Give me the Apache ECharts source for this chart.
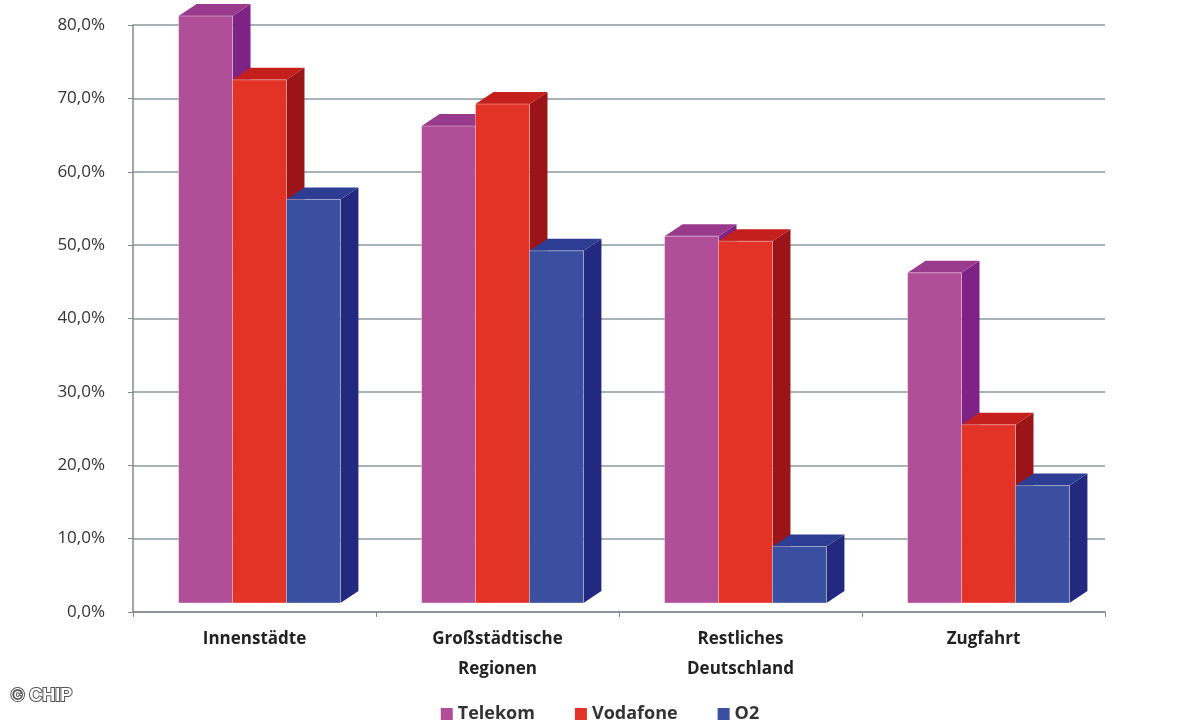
<!DOCTYPE html>
<html><head><meta charset="utf-8">
<script src="https://cdn.jsdelivr.net/npm/echarts@6/dist/echarts.min.js"></script>
<style>html,body{margin:0;background:#fff}#c{width:1200px;height:720px}</style>
</head><body><div id="c"></div>
<script>
// Mobilfunk-Netzabdeckung nach Region
const categories = ['Innenstädte', 'Großstädtische\nRegionen', 'Restliches\nDeutschland', 'Zugfahrt']
const telekom = [80.0, 65.0, 50.0, 45.0]
const vodafone = [71.3, 68.0, 49.3, 24.3]
const o2 = [55.0, 48.0, 7.7, 16.0]
const yTicks = [0, 10, 20, 30, 40, 50, 60, 70, 80]

// Front-, Dach- und Seitenfarbe je Anbieter
const palette = [
    ['#b04f98', '#9a3a8c', '#7e2385'],
    ['#e33327', '#c41f1c', '#9a1418'],
    ['#3a4f9f', '#2e3d94', '#22297f']
]
const DEPTH_X = 18, DEPTH_Y = 12

function bar3d(seriesIdx) {
    return function (params, api) {
        let cat = api.value(0)
        let top = api.coord([cat, api.value(1)])
        let base = api.coord([cat, 0])
        let w = api.size([1, 0])[0] * 0.222
        let x0 = top[0] - w * 1.5 + seriesIdx * w + 5
        let x1 = x0 + w
        let yb = base[1] - 9
        let yt = top[1] - 9
        let c = palette[seriesIdx]
        return {
            type: 'group',
            children: [
                {type: 'polygon', shape: {points: [[x1, yb], [x1 + DEPTH_X, yb - DEPTH_Y], [x1 + DEPTH_X, yt - DEPTH_Y], [x1, yt]]}, style: {fill: c[2]}},
                {type: 'polygon', shape: {points: [[x0, yt], [x0 + DEPTH_X, yt - DEPTH_Y], [x1 + DEPTH_X, yt - DEPTH_Y], [x1, yt]]}, style: {fill: c[1]}},
                {type: 'rect', shape: {x: x0, y: yt, width: w, height: yb - yt}, style: {fill: c[0], stroke: 'rgba(255,255,255,0.35)', lineWidth: 1}}
            ]
        }
    }
}

function makeSeries(name, data, idx) {
    return {
        name: name,
        type: 'custom',
        renderItem: bar3d(idx),
        itemStyle: {color: palette[idx][0]},
        encode: {x: 0, y: 1},
        data: data.map((v, i) => [i, v]),
        z: 2
    }
}

const chart = echarts.init(document.getElementById('c'))
chart.setOption({
    animation: false,
    grid: {left: 133, right: 95, top: 25, bottom: 108},
    legend: {
        bottom: -8, itemWidth: 12, itemHeight: 12, itemGap: 40,
        icon: 'rect',
        textStyle: {fontFamily: 'Open Sans', fontSize: 18, fontWeight: 'bold', color: '#333'},
        data: ['Telekom', 'Vodafone', 'O2']
    },
    xAxis: {
        type: 'category',
        data: categories,
        axisLine: {lineStyle: {color: '#888', width: 1.5}},
        axisTick: {show: true, alignWithLabel: false, lineStyle: {color: '#888'}},
        axisLabel: {fontFamily: 'Open Sans', fontWeight: 'bold', fontSize: 17, color: '#222', lineHeight: 30, margin: 12}
    },
    yAxis: {
        type: 'value',
        min: 0, max: 80, interval: 10,
        axisLine: {show: true, lineStyle: {color: '#888', width: 1.5}},
        axisTick: {show: true, lineStyle: {color: '#888'}},
        axisLabel: {
            fontFamily: 'Open Sans', fontSize: 17, color: '#333', margin: 28,
            formatter: v => yTicks.includes(v) ? v.toFixed(1).replace('.', ',') + '%' : ''
        },
        splitLine: {lineStyle: {color: '#8a9aa0', width: 1.5}}
    },
    series: [
        makeSeries('Telekom', telekom, 0),
        makeSeries('Vodafone', vodafone, 1),
        makeSeries('O2', o2, 2)
    ],
    graphic: [{
        type: 'text', left: 10, top: 686,
        style: {text: '© CHIP', fill: '#fff', font: 'bold 18px Arial', stroke: '#555', lineWidth: 2}
    }]
})
</script>
</body></html>
